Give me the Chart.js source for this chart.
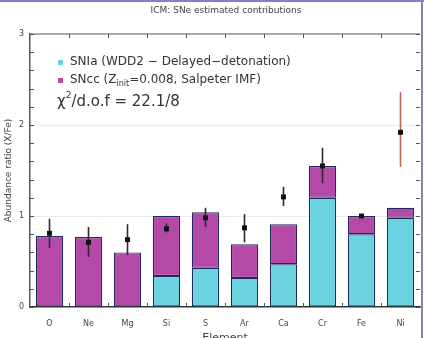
<!DOCTYPE html>
<html>
<head>
<meta charset="utf-8">
<script src="https://cdn.jsdelivr.net/npm/chart.js@4/dist/chart.umd.min.js"></script>
<style>
  html, body { margin: 0; padding: 0; background: #fff; }
  #wrap { width: 424px; height: 338px; }
</style>
</head>
<body>
<div id="wrap"><canvas id="abundChart" width="424" height="338"></canvas></div>
<script>
// element abundance ratios
const elements = ["O", "Ne", "Mg", "Si", "S", "Ar", "Ca", "Cr", "Fe", "Ni"]
const snIa = [0, 0, 0, 0.34, 0.43, 0.32, 0.47, 1.20, 0.80, 0.98]
const snCC = [0.78, 0.77, 0.60, 0.66, 0.61, 0.37, 0.44, 0.35, 0.20, 0.11]
const observed = [0.81, 0.71, 0.74, 0.86, 0.98, 0.87, 1.21, 1.55, 1.00, 1.92]
const obsLow = [0.65, 0.55, 0.57, 0.82, 0.88, 0.71, 1.11, 1.36, 0.98, 1.54]
const obsHigh = [0.97, 0.88, 0.91, 0.92, 1.09, 1.02, 1.32, 1.75, 1.02, 2.36]
const yTicks = [0, 1, 2, 3]

const CYAN = "#6bd3df"
const MAGENTA = "#b549a8"
const EDGE = "#1f2b5c"
const TEXT = "#444"
const errColor = (i) => (i === 9 ? "#c0654f" : "#2a2a35")

const isMajor = (v) => Math.abs(v - Math.round(v)) < 1e-6

// titles, legend, frame, inward ticks and error bars
const extras = {
  id: "extras",
  beforeDatasetDraw(chart, args) {
    if (args.index !== 2) return
    const { ctx, scales: { x, y } } = chart
    ctx.save()
    ctx.lineWidth = 1.6
    elements.forEach((_, i) => {
      const px = x.getPixelForValue(i)
      ctx.strokeStyle = errColor(i)
      ctx.beginPath()
      ctx.moveTo(px, y.getPixelForValue(obsLow[i]))
      ctx.lineTo(px, y.getPixelForValue(obsHigh[i]))
      ctx.stroke()
    })
    ctx.restore()
  },
  afterDraw(chart) {
    const { ctx, chartArea: a, scales: { x, y } } = chart
    ctx.save()

    // top border of the plot
    ctx.strokeStyle = "#555"
    ctx.lineWidth = 1.2
    ctx.beginPath()
    ctx.moveTo(a.left, a.top)
    ctx.lineTo(a.right, a.top)
    ctx.stroke()

    // inward ticks
    ctx.strokeStyle = "#4a5a5a"
    ctx.lineWidth = 1
    for (let k = 0; k <= 15; k++) {
      const v = k * 0.2
      const py = Math.round(y.getPixelForValue(v)) + 0.5
      ctx.beginPath()
      ctx.moveTo(a.left, py); ctx.lineTo(a.left + 4, py)
      ctx.moveTo(a.right, py); ctx.lineTo(a.right - 4, py)
      ctx.stroke()
    }
    for (let i = 1; i < elements.length; i++) {
      const px = Math.round((x.getPixelForValue(i - 1) + x.getPixelForValue(i)) / 2) + 0.5
      ctx.beginPath()
      ctx.moveTo(px, a.bottom); ctx.lineTo(px, a.bottom - 4)
      ctx.moveTo(px, a.top); ctx.lineTo(px, a.top + 4)
      ctx.stroke()
    }

    // figure frame (top and right)
    ctx.strokeStyle = "#8c7cc0"
    ctx.lineWidth = 2
    ctx.beginPath()
    ctx.moveTo(0, 1); ctx.lineTo(424, 1)
    ctx.moveTo(422, 0); ctx.lineTo(422, 338)
    ctx.stroke()

    // title
    ctx.fillStyle = TEXT
    ctx.font = "9px 'DejaVu Sans'"
    ctx.textAlign = "center"
    ctx.textBaseline = "middle"
    ctx.fillText("ICM: SNe estimated contributions", 226, 11)

    // axis titles
    ctx.save()
    ctx.translate(9, (a.top + a.bottom) / 2)
    ctx.rotate(-Math.PI / 2)
    ctx.fillText("Abundance ratio (X/Fe)", 0, 0)
    ctx.restore()
    ctx.font = "11px 'DejaVu Sans'"
    ctx.textBaseline = "top"
    ctx.fillText("Element", (a.left + a.right) / 2, 333)

    // legend
    ctx.textAlign = "left"
    ctx.textBaseline = "middle"
    ctx.fillStyle = CYAN
    ctx.fillRect(58, 60, 5, 5)
    ctx.fillStyle = MAGENTA
    ctx.fillRect(58, 78, 5, 5)
    ctx.fillStyle = "#333"
    ctx.font = "12px 'DejaVu Sans'"
    ctx.fillText("SNIa (WDD2 \u2212 Delayed\u2212detonation)", 70, 62)
    let tx = 70
    const part1 = "SNcc (Z"
    ctx.fillText(part1, tx, 80)
    tx += ctx.measureText(part1).width
    ctx.font = "8px 'DejaVu Sans'"
    ctx.fillText("init", tx, 84)
    tx += ctx.measureText("init").width
    ctx.font = "12px 'DejaVu Sans'"
    ctx.fillText("=0.008, Salpeter IMF)", tx, 80)

    tx = 57
    ctx.font = "15px 'DejaVu Sans'"
    ctx.fillText("\u03c7", tx, 102)
    tx += ctx.measureText("\u03c7").width
    ctx.font = "9px 'DejaVu Sans'"
    ctx.fillText("2", tx, 96)
    tx += ctx.measureText("2").width
    ctx.font = "15px 'DejaVu Sans'"
    ctx.fillText("/d.o.f = 22.1/8", tx, 102)

    ctx.restore()
  },
}

new Chart(document.getElementById("abundChart"), {
  type: "bar",
  data: {
    labels: elements,
    datasets: [
      {
        label: "SNIa",
        data: snIa,
        backgroundColor: CYAN,
        borderColor: EDGE,
        borderWidth: 1.2,
        borderSkipped: false,
        order: 1,
      },
      {
        label: "SNcc",
        data: snCC,
        backgroundColor: MAGENTA,
        borderColor: EDGE,
        borderWidth: 1.2,
        borderSkipped: false,
        order: 1,
      },
      {
        type: "line",
        label: "Observed",
        data: observed,
        showLine: false,
        pointStyle: "rect",
        pointRadius: 3.5,
        backgroundColor: "#111",
        borderColor: "#111",
        borderWidth: 0,
        stack: "obs",
        order: 0,
      },
    ],
  },
  options: {
    responsive: false,
    animation: false,
    events: [],
    layout: { padding: { top: 34, right: 2, left: 0, bottom: 0 } },
    datasets: { bar: { categoryPercentage: 1, barPercentage: 0.7 } },
    plugins: {
      legend: { display: false },
      tooltip: { enabled: false },
    },
    scales: {
      x: {
        stacked: true,
        grid: { display: false },
        border: { color: "#2d3535", width: 1.5 },
        ticks: { color: TEXT, font: { family: "DejaVu Sans", size: 8 }, padding: 4 },
        afterFit(scale) { scale.height = 31 },
      },
      y: {
        stacked: true,
        min: 0,
        max: 3,
        grid: {
          drawTicks: false,
          color: (c) => (c.tick && isMajor(c.tick.value) && c.tick.value > 0 && c.tick.value < 3 ? "#ececec" : "rgba(0,0,0,0)"),
        },
        border: { color: "#4a5a5a", width: 1.5 },
        ticks: {
          stepSize: 0.2,
          autoSkip: false,
          padding: 6,
          color: TEXT,
          font: { family: "DejaVu Sans", size: 8 },
          callback: (v) => (isMajor(v) && yTicks.includes(Math.round(v)) ? String(Math.round(v)) : ""),
        },
        afterFit(scale) { scale.width = 30 },
      },
    },
  },
  plugins: [extras],
})
</script>
</body>
</html>
